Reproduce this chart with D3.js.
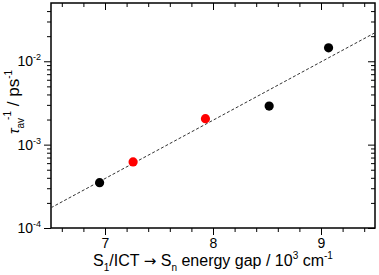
<!DOCTYPE html>
<html>
<head>
<meta charset="utf-8">
<script src="https://cdn.jsdelivr.net/npm/d3@7"></script>
<style>
  body { margin: 0; background: #fff; }
  svg { display: block; font-family: "Liberation Sans", Arial, sans-serif; }
  .tick line { stroke: #000; }
  .domain { display: none; }
</style>
</head>
<body>
<div id="chart"></div>
<script>
// chart size
const width = 379
const height = 275
const margin = { top: 3, right: 4, bottom: 47, left: 51 }

// data
const gapBlack = [6.95, 8.52, 9.07]          // 10^3 cm^-1
const rateBlack = [3.5e-4, 2.9e-3, 1.45e-2]  // ps^-1
const gapRed = [7.26, 7.93]
const rateRed = [6.2e-4, 2.05e-3]
const fitGap = [6.5, 9.5]
const fitRate = [1.75e-4, 2.2e-2]

const xMajor = [7, 8, 9]
const xMinor = [6.6, 6.8, 7.2, 7.4, 7.6, 7.8, 8.2, 8.4, 8.6, 8.8, 9.2, 9.4]
const yMajor = [1e-4, 1e-3, 1e-2]
const yExp = ["-4", "-3", "-2"]
const yMinor = [2e-4, 3e-4, 4e-4, 5e-4, 6e-4, 7e-4, 8e-4, 9e-4,
                2e-3, 3e-3, 4e-3, 5e-3, 6e-3, 7e-3, 8e-3, 9e-3,
                2e-2, 3e-2, 4e-2]

const w = width - margin.left - margin.right
const h = height - margin.top - margin.bottom

const svg = d3.select("#chart").append("svg")
    .attr("width", width)
    .attr("height", height)

const g = svg.append("g").attr("transform", `translate(${margin.left},${margin.top})`)

// scales
const x = d3.scaleLinear().domain([6.5, 9.5]).range([0, w])
const y = d3.scaleLog().domain([1e-4, 0.05]).range([h, 0])

// bottom axis (ticks out)
g.append("g").attr("transform", `translate(0,${h})`)
    .call(d3.axisBottom(x).tickValues(xMinor).tickSize(4).tickFormat(""))
const xAx = g.append("g").attr("transform", `translate(0,${h})`)
    .call(d3.axisBottom(x).tickValues(xMajor).tickSize(7).tickPadding(3).tickFormat(d3.format("d")))
xAx.selectAll("text").attr("font-size", 14).attr("fill", "#000")

// top axis (ticks in)
g.append("g").call(d3.axisBottom(x).tickValues(xMinor).tickSize(4).tickFormat(""))
g.append("g").call(d3.axisBottom(x).tickValues(xMajor).tickSize(7).tickFormat(""))

// left axis (ticks out)
g.append("g").call(d3.axisLeft(y).tickValues(yMinor).tickSize(4).tickFormat(""))
const yAx = g.append("g").call(d3.axisLeft(y).tickValues(yMajor).tickSize(7).tickPadding(3).tickFormat(""))
yAx.selectAll(".tick text").each(function(d, i) {
    const t = d3.select(this).attr("font-size", 14).attr("fill", "#000")
    t.append("tspan").text("10")
    t.append("tspan").attr("font-size", 9).attr("dy", -6).text(yExp[i])
})

// right axis (ticks in)
g.append("g").attr("transform", `translate(${w},0)`)
    .call(d3.axisLeft(y).tickValues(yMinor).tickSize(4).tickFormat(""))
g.append("g").attr("transform", `translate(${w},0)`)
    .call(d3.axisLeft(y).tickValues(yMajor).tickSize(7).tickFormat(""))

// frame
g.append("rect").attr("width", w).attr("height", h)
    .attr("fill", "none").attr("stroke", "#000").attr("stroke-width", 1.5)

// fit line
g.append("path")
    .datum(d3.zip(fitGap, fitRate))
    .attr("d", d3.line().x(d => x(d[0])).y(d => y(d[1])))
    .attr("fill", "none").attr("stroke", "#333").attr("stroke-width", 1)
    .attr("stroke-dasharray", "3,2")

// points
g.selectAll(".black").data(d3.zip(gapBlack, rateBlack)).join("circle")
    .attr("class", "black")
    .attr("cx", d => x(d[0])).attr("cy", d => y(d[1])).attr("r", 4.6)
    .attr("fill", "#000")
g.selectAll(".red").data(d3.zip(gapRed, rateRed)).join("circle")
    .attr("class", "red")
    .attr("cx", d => x(d[0])).attr("cy", d => y(d[1])).attr("r", 4.6)
    .attr("fill", "#ff0000")

// x label
const xl = svg.append("text")
    .attr("x", margin.left + w / 2).attr("y", 266)
    .attr("text-anchor", "middle").attr("font-size", 16)
xl.append("tspan").text("S")
xl.append("tspan").attr("font-size", 10).attr("dy", 5).text("1")
xl.append("tspan").attr("dy", -5).text("/ICT ")
xl.append("tspan").attr("font-family", "DejaVu Sans").attr("font-size", 15).text("\u2192")
xl.append("tspan").text(" S")
xl.append("tspan").attr("font-size", 10).attr("dy", 5).text("n")
xl.append("tspan").attr("dy", -5).text(" energy gap / 10")
xl.append("tspan").attr("font-size", 10).attr("dy", -7).text("3")
xl.append("tspan").attr("dy", 7).text(" cm")
xl.append("tspan").attr("font-size", 10).attr("dy", -7).text("-1")

// y label
const yl = svg.append("text")
    .attr("transform", `translate(19,102) rotate(-90)`)
    .attr("text-anchor", "middle").attr("font-size", 17)
yl.append("tspan").attr("font-style", "italic").attr("font-size", 15).text("\u03c4")
yl.append("tspan").attr("font-size", 10).attr("dy", 5).text("av")
yl.append("tspan").attr("font-size", 10).attr("dx", -2).attr("dy", -13).text("-1")
yl.append("tspan").attr("dy", 8).text(" / ps")
yl.append("tspan").attr("font-size", 10).attr("dy", -7).text("-1")
</script>
</body>
</html>
